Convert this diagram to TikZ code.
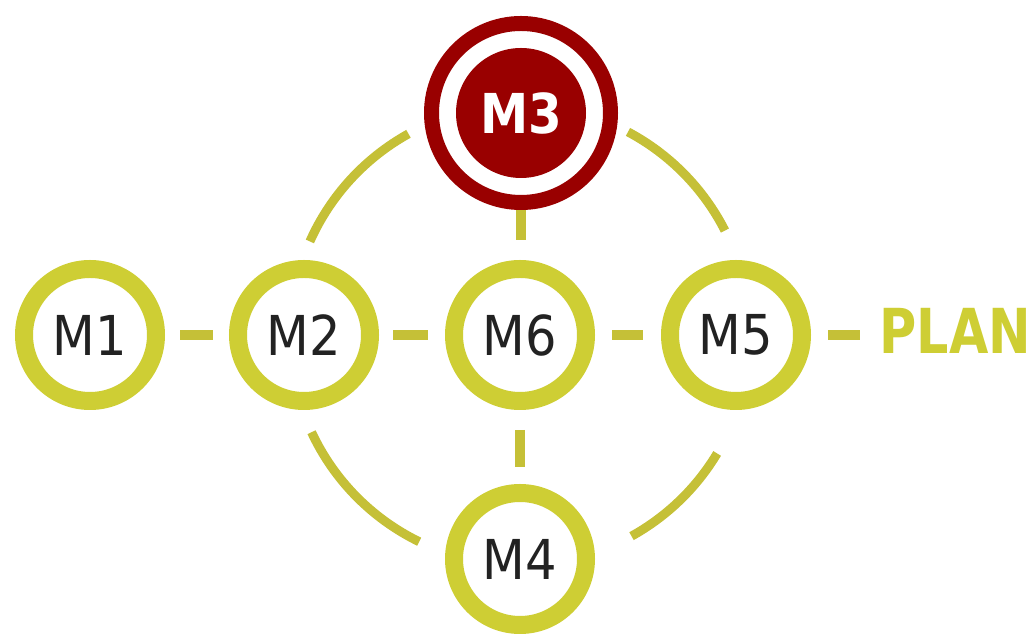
\documentclass[tikz,border=0pt]{standalone}
\usepackage{fontspec}
\newfontfamily\lblfont{DejaVu Sans}
\newcommand\mlbl[1]{\scalebox{0.9}[1]{#1}}
\definecolor{ringcol}{RGB}{206,206,52}
\definecolor{segcol}{RGB}{197,192,55}
\definecolor{mred}{RGB}{153,0,0}
\definecolor{txtcol}{RGB}{34,34,34}
\begin{document}
\begin{tikzpicture}[x=1pt,y=1pt,
  mnode/.style={circle, draw=ringcol, line width=18pt, minimum size=132pt, inner sep=0pt,
    fill=white, text=txtcol, font=\lblfont\fontsize{55}{60}\selectfont},
  hubnode/.style={circle, draw=mred, line width=15pt, minimum size=179pt, inner sep=0pt,
    fill=white, text=white, font=\lblfont\bfseries\fontsize{55}{60}\selectfont,
    path picture={\fill[mred] (path picture bounding box.center) circle (65pt);}},
  plannode/.style={inner sep=0pt, outer sep=0pt, text=ringcol,
    font=\lblfont\bfseries\fontsize{62}{66}\selectfont},
  link/.style={draw=segcol, line width=10pt},
  arcseg/.style={draw=segcol, line width=9pt}
]
\useasboundingbox (0,0) rectangle (1034,636);
\node[mnode] (M1) at (90,301) {\mlbl{M1}};
\node[mnode] (M2) at (304,301) {\mlbl{M2}};
\node[mnode] (M6) at (520,301) {\mlbl{M6}};
\node[mnode] (M5) at (736,301) {\mlbl{M5}};
\node[mnode] (M4) at (520,77) {\mlbl{M4}};
\node[hubnode] (M3) at (521,523) {\scalebox{0.88}[1]{M3}};
\node[plannode, anchor=west] (PLAN) at (879.5,305.5) {\scalebox{0.82}[1]{PLAN}};

\draw[link, shorten <=15pt, shorten >=16pt] (M1) -- (M2);
\draw[link, shorten <=14pt, shorten >=17pt] (M2) -- (M6);
\draw[link, shorten <=17pt, shorten >=18pt] (M6) -- (M5);
\draw[link, shorten <=17pt, shorten >=19.5pt] (M5) -- (M5 -| PLAN.west);
\draw[link, shorten >=20pt] (M3) -- (M3 |- M6.north);
\draw[link, shorten <=20pt, shorten >=17pt] (M6) -- (M4);

\draw[arcseg] ([shift={(156:230)}]M6.center) arc[start angle=156, end angle=119, radius=230];
\draw[arcseg] ([shift={(62:230)}]M6.center) arc[start angle=62, end angle=27, radius=230];
\draw[arcseg] ([shift={(205:230)}]M6.center) arc[start angle=205, end angle=244, radius=230];
\draw[arcseg] ([shift={(299:230)}]M6.center) arc[start angle=299, end angle=329, radius=230];
\end{tikzpicture}
\end{document}
